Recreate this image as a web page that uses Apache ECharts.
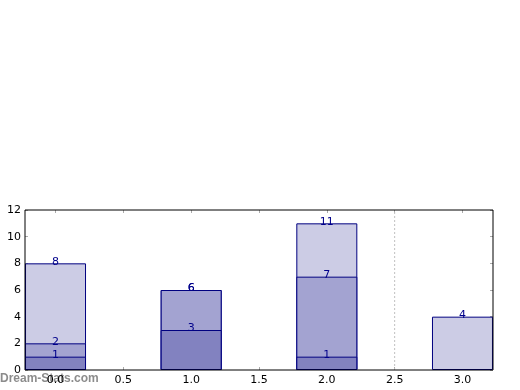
<!DOCTYPE html>
<html><head><meta charset="utf-8">
<script src="https://cdn.jsdelivr.net/npm/echarts@6/dist/echarts.min.js"></script>
<style>html,body{margin:0;padding:0;background:#fff}#c{width:520px;height:390px}</style>
</head><body><div id="c"></div>
<script>
var positions = [0, 1, 2, 3];
var seriesLight = [8, 6, 11, 4];
var seriesMid = [2, 6, 7, null];
var seriesDark = [1, 3, 1, null];
var xTicks = [0, 0.5, 1, 1.5, 2, 2.5, 3];
var yTicks = [0, 2, 4, 6, 8, 10, 12];
var refLineX = 2.5;

function pairs(vals){ return positions.map(function(p,i){ return vals[i]==null?null:[p, vals[i]]; }).filter(function(d){return d;}); }

var font = 'DejaVu Sans';
function barSeries(vals, color){
  return {
    type: 'bar', data: pairs(vals), barWidth: 61, barGap: '-100%',
    itemStyle: {color: color, borderColor: '#000080', borderWidth: 1},
    label: {show: true, position: 'top', distance: -4, color: '#00008b', fontFamily: font, fontSize: 11},
    animation: false
  };
}
var chart = echarts.init(document.getElementById('c'));
var tickStyle = {show: true, inside: true, length: 3, lineStyle: {color: '#aaa'}};
chart.setOption({
  animation: false,
  grid: {left: 25, right: 27, top: 210, bottom: 20, show: true, borderColor: '#000', borderWidth: 1, backgroundColor: 'transparent', z: 10},
  xAxis: [{
    type: 'value', min: -0.225, max: 3.225, position: 'bottom',
    axisLine: {show: false, onZero: false}, splitLine: {show: false},
    axisTick: {show: true, inside: true, length: 3, lineStyle: {color: '#aaa'}, customValues: xTicks},
    axisLabel: {color: '#000', fontFamily: font, fontSize: 11, margin: 5, customValues: xTicks, formatter: function(v){return v.toFixed(1);}}
  },{
    type: 'value', min: -0.225, max: 3.225, position: 'top',
    axisLine: {show: false, onZero: false}, splitLine: {show: false},
    axisTick: {show: true, inside: true, length: 3, lineStyle: {color: '#aaa'}, customValues: xTicks},
    axisLabel: {show: false}
  }],
  yAxis: [{
    type: 'value', min: 0, max: 12, interval: 2, position: 'left',
    axisLine: {show: false, onZero: false}, splitLine: {show: false},
    axisTick: tickStyle,
    axisLabel: {color: '#000', fontFamily: font, fontSize: 11, margin: 4}
  },{
    type: 'value', min: 0, max: 12, interval: 2, position: 'right',
    axisLine: {show: false, onZero: false}, splitLine: {show: false},
    axisTick: tickStyle, axisLabel: {show: false}
  }],
  graphic: [{
    type: 'text', left: 0, top: 373, z: 0,
    style: {text: 'Dream-Stats.com', fill: 'rgba(128,128,128,0.9)', font: 'bold 12px "Liberation Sans"'}
  }],
  series: [
    {type: 'line', data: [[refLineX, 0], [refLineX, 12]], symbol: 'none', silent: true,
     lineStyle: {color: '#c0c0c0', type: [2, 2], width: 1}, z: 1},
    barSeries(seriesLight, '#ccccE5'),
    barSeries(seriesMid, '#a3a3d1'),
    barSeries(seriesDark, '#8282c0')
  ]
});
</script></body></html>
